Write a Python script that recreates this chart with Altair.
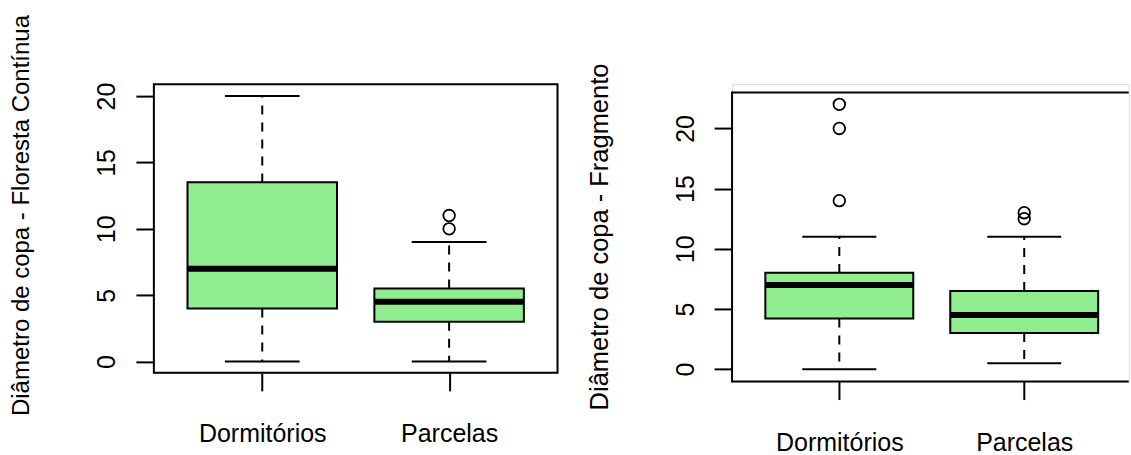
import altair as alt
import pandas as pd

categories = ["Dormitórios", "Parcelas"]
positions = [1, 2]

# Panel 1: Floresta Contínua
fc_lower = [0, 0]
fc_q1 = [4, 3]
fc_median = [7, 4.5]
fc_q3 = [13.5, 5.5]
fc_upper = [20, 9]
fc_out_cat = ["Parcelas", "Parcelas"]
fc_out_val = [10, 11]

# Panel 2: Fragmento
fr_lower = [0, 0.5]
fr_q1 = [4.2, 3]
fr_median = [7, 4.5]
fr_q3 = [8, 6.5]
fr_upper = [11, 11]
fr_out_cat = ["Dormitórios", "Dormitórios", "Dormitórios", "Parcelas", "Parcelas"]
fr_out_val = [14, 20, 22, 12.5, 13]

y_ticks = [0, 5, 10, 15, 20]

FONT = "Liberation Sans"
GREEN = "#90EE90"


def label_expr():
    parts = " : ".join(
        f"datum.value == {p} ? '{c}'" for p, c in zip(positions, categories)
    )
    return parts + " : ''"


def panel(title, lower, q1, med, q3, upper, out_cat, out_val, ydom, xdom,
          W, H, top, title_x, title_y, title_size, full_frame):
    stats = pd.DataFrame({
        "cat": categories, "pos": positions, "lower": lower, "q1": q1,
        "median": med, "q3": q3, "upper": upper,
    })
    pos_map = dict(zip(categories, positions))
    outs = pd.DataFrame({"cat": out_cat, "value": out_val})
    outs["pos"] = [pos_map[c] for c in out_cat]

    xs = alt.Scale(domain=xdom, nice=False, zero=False)
    ys = alt.Scale(domain=ydom, nice=False, zero=False)
    xaxis = alt.Axis(values=positions, labelExpr=label_expr(), title=None,
                     grid=False, domain=False, tickSize=18, tickWidth=2,
                     tickColor="black", labelFontSize=25, labelColor="black",
                     labelPadding=51, labelBaseline="alphabetic",
                     labelFont=FONT, labelFlush=False)
    yaxis = alt.Axis(values=y_ticks, title=title, grid=False, domain=False,
                     tickSize=18, tickWidth=2, tickColor="black",
                     labelFontSize=25, labelColor="black", labelAngle=270,
                     labelAlign="center", labelBaseline="alphabetic",
                     labelPadding=21, labelFont=FONT,
                     titleFont=FONT, titleFontSize=title_size,
                     titleFontWeight="normal", titleColor="black",
                     titleAngle=270, titleAlign="center",
                     titleBaseline="alphabetic", titleX=title_x,
                     titleY=title_y)

    base = alt.Chart(stats).transform_calculate(
        lo="datum.pos - 0.4", hi="datum.pos + 0.4",
        clo="datum.pos - 0.2", chi="datum.pos + 0.2",
    )

    wh_up = base.mark_rule(color="black", strokeWidth=2, strokeDash=[9, 8]).encode(
        x=alt.X("pos:Q", scale=xs, axis=xaxis),
        y=alt.Y("q3:Q", scale=ys, axis=yaxis), y2="upper:Q")
    wh_lo = base.mark_rule(color="black", strokeWidth=2, strokeDash=[9, 8]).encode(
        x=alt.X("pos:Q", scale=xs, axis=xaxis),
        y=alt.Y("q1:Q", scale=ys, axis=yaxis), y2="lower:Q")
    box = base.mark_rect(fill=GREEN, stroke="black", strokeWidth=2).encode(
        x=alt.X("lo:Q", scale=xs, axis=xaxis), x2="hi:Q",
        y=alt.Y("q1:Q", scale=ys, axis=yaxis), y2="q3:Q")
    median = base.mark_rule(color="black", strokeWidth=6, strokeCap="butt").encode(
        x=alt.X("lo:Q", scale=xs, axis=xaxis), x2="hi:Q",
        y=alt.Y("median:Q", scale=ys, axis=yaxis))
    cap_up = base.mark_rule(color="black", strokeWidth=2).encode(
        x=alt.X("clo:Q", scale=xs, axis=xaxis), x2="chi:Q",
        y=alt.Y("upper:Q", scale=ys, axis=yaxis))
    cap_lo = base.mark_rule(color="black", strokeWidth=2).encode(
        x=alt.X("clo:Q", scale=xs, axis=xaxis), x2="chi:Q",
        y=alt.Y("lower:Q", scale=ys, axis=yaxis))
    pts = alt.Chart(outs).mark_point(shape="circle", filled=False, size=135,
                                     color="black", strokeWidth=1.8, opacity=1).encode(
        x=alt.X("pos:Q", scale=xs, axis=xaxis),
        y=alt.Y("value:Q", scale=ys, axis=yaxis))

    one = pd.DataFrame({"k": [0]})
    if full_frame:
        frames = [alt.Chart(one).mark_rect(fillOpacity=0, stroke="black",
                                           strokeWidth=2).encode(
            x=alt.value(0), x2=alt.value(W), y=alt.value(top), y2=alt.value(H))]
    else:
        frames = [
            alt.Chart(one).mark_rule(color="black", strokeWidth=2).encode(
                x=alt.value(0), y=alt.value(top - 1), y2=alt.value(H + 1)),
            alt.Chart(one).mark_rule(color="black", strokeWidth=2, strokeCap="butt").encode(
                x=alt.value(0), x2=alt.value(W), y=alt.value(top)),
            alt.Chart(one).mark_rule(color="black", strokeWidth=2, strokeCap="butt").encode(
                x=alt.value(0), x2=alt.value(W), y=alt.value(H)),
        ]

    return alt.layer(wh_up, wh_lo, box, median, cap_up, cap_lo, pts, *frames).properties(
        width=W, height=H)


left = panel("Diâmetro de copa - Floresta Contínua", fc_lower, fc_q1, fc_median,
             fc_q3, fc_upper, fc_out_cat, fc_out_val,
             ydom=[-0.85, 20.9], xdom=[0.42, 2.58], W=404, H=289, top=0,
             title_x=-125, title_y=131, title_size=24, full_frame=True)

right = panel("Diâmetro de copa - Fragmento", fr_lower, fr_q1, fr_median,
              fr_q3, fr_upper, fr_out_cat, fr_out_val,
              ydom=[-1.03, 23.68], xdom=[0.42, 2.565], W=397, H=297.7, top=8.3,
              title_x=-125, title_y=152.5, title_size=25.5, full_frame=False)

chart = alt.hconcat(left, right, spacing=174.7, bounds="flush").properties(
    padding={"left": 9, "top": 13, "right": 0, "bottom": 0}
).configure_view(strokeWidth=0).configure(font=FONT)

chart.save("out.html", embed_options={"renderer": "svg", "actions": False})
